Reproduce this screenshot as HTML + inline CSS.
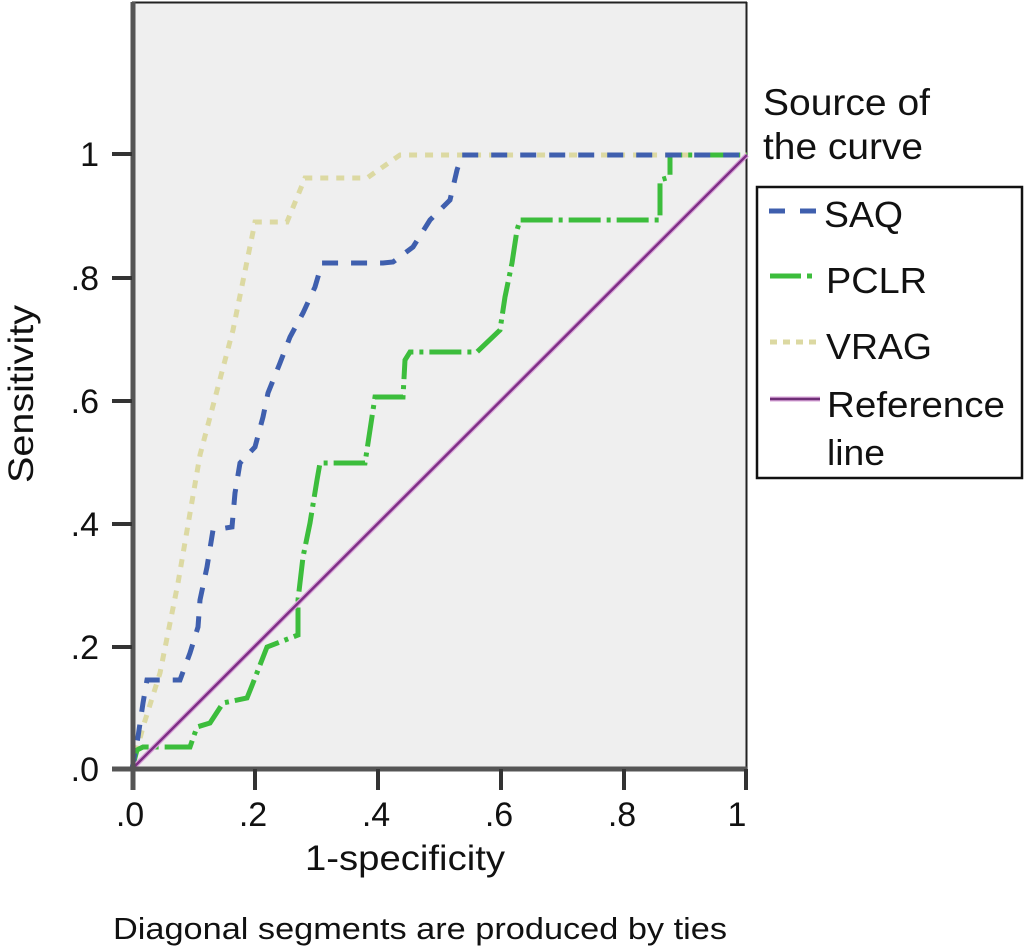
<!DOCTYPE html>
<html><head><meta charset="utf-8"><style>
html,body{margin:0;padding:0;background:#fff;}
svg{display:block;}
text{font-family:"Liberation Sans",Arial,sans-serif;fill:#111;}
</style></head><body>
<svg width="1024" height="947" viewBox="0 0 1024 947" xmlns="http://www.w3.org/2000/svg">
<rect x="0" y="0" width="1024" height="947" fill="#fff"/>
<!-- plot area -->
<rect x="132" y="2" width="615" height="767" fill="#efefef"/>
<line x1="132" y1="2.5" x2="747" y2="2.5" stroke="#222" stroke-width="2"/>
<line x1="746.5" y1="2" x2="746.5" y2="790" stroke="#222" stroke-width="2"/>

<!-- curves -->
<polyline fill="none" stroke="#dcd9a2" stroke-width="5" stroke-dasharray="8,8"
 points="132,769 143,727 160,673 178,583 200,455 233,330 255,222 287,222 305,178 367,178 400,155 747,155"/>
<polyline fill="none" stroke="#3cbd3c" stroke-width="5" stroke-dasharray="32,6,4,6"
 points="132,769 137,750 143,747 190,747 197,727 210,723 223,703 247,698 253,683 267,647 298,635 298,600 303,557 310,523 317,480 320,463 365,463 375,397 403,397 405,360 410,352 477,352 500,330 505,297 512,263 517,230 520,220 660,220 660,180 670,177 670,155 747,155"/>
<polyline fill="none" stroke="#3f5fae" stroke-width="5" stroke-dasharray="16,13"
 points="132,769 138,737 143,703 147,680 180,680 190,653 198,627 200,600 207,567 213,530 232,527 235,493 240,463 255,447 263,417 268,393 280,363 290,337 303,313 315,287 322,263 383,263 393,262 413,247 430,220 450,200 457,170 462,155 747,155"/>
<line x1="132" y1="769" x2="747" y2="155" stroke="#d9a6d9" stroke-width="5"/>
<line x1="132" y1="769" x2="747" y2="155" stroke="#7e2f86" stroke-width="2.5"/>

<!-- axes -->
<line x1="133" y1="2" x2="133" y2="790" stroke="#555" stroke-width="5"/>
<line x1="112" y1="769" x2="747" y2="769" stroke="#555" stroke-width="5"/>
<g stroke="#333" stroke-width="4">
<line x1="112" y1="154" x2="132" y2="154"/>
<line x1="112" y1="278" x2="132" y2="278"/>
<line x1="112" y1="401" x2="132" y2="401"/>
<line x1="112" y1="524" x2="132" y2="524"/>
<line x1="112" y1="647" x2="132" y2="647"/>
<line x1="255" y1="769" x2="255" y2="790"/>
<line x1="378" y1="769" x2="378" y2="790"/>
<line x1="501" y1="769" x2="501" y2="790"/>
<line x1="624" y1="769" x2="624" y2="790"/>
<line x1="746" y1="769" x2="746" y2="790"/>
</g>

<!-- y tick labels -->
<g font-size="34" text-anchor="end">
<text x="99" y="166">1</text>
<text x="99" y="290">.8</text>
<text x="99" y="413">.6</text>
<text x="99" y="536">.4</text>
<text x="99" y="659">.2</text>
<text x="99" y="781">.0</text>
</g>
<!-- x tick labels -->
<g font-size="34" text-anchor="middle">
<text x="130" y="826">.0</text>
<text x="253" y="826">.2</text>
<text x="376" y="826">.4</text>
<text x="499" y="826">.6</text>
<text x="622" y="826">.8</text>
<text x="737" y="826">1</text>
</g>

<text x="305" y="870" font-size="35" textLength="200" lengthAdjust="spacingAndGlyphs">1-specificity</text>
<text transform="translate(33,483) rotate(-90)" x="0" y="0" font-size="35" textLength="178" lengthAdjust="spacingAndGlyphs">Sensitivity</text>
<text x="113" y="939" font-size="31" textLength="614" lengthAdjust="spacingAndGlyphs">Diagonal segments are produced by ties</text>

<!-- legend -->
<text x="763" y="115" font-size="37" textLength="167" lengthAdjust="spacingAndGlyphs">Source of</text>
<text x="763" y="159" font-size="37" textLength="160" lengthAdjust="spacingAndGlyphs">the curve</text>
<rect x="757" y="187" width="265" height="291" fill="#fff" stroke="#111" stroke-width="2.5"/>
<line x1="769" y1="211" x2="818" y2="211" stroke="#3f5fae" stroke-width="5" stroke-dasharray="16,15"/>
<line x1="770" y1="276" x2="813" y2="276" stroke="#3cbd3c" stroke-width="5" stroke-dasharray="31,6,5,10"/>
<line x1="770" y1="342" x2="820" y2="342" stroke="#dcd9a2" stroke-width="5" stroke-dasharray="7,6"/>
<line x1="770" y1="399" x2="820" y2="399" stroke="#d9a6d9" stroke-width="5"/>
<line x1="770" y1="399" x2="820" y2="399" stroke="#6e2f76" stroke-width="2.5"/>
<g font-size="36">
<text x="824" y="227" textLength="79" lengthAdjust="spacingAndGlyphs">SAQ</text>
<text x="826" y="293" textLength="101" lengthAdjust="spacingAndGlyphs">PCLR</text>
<text x="826" y="359" textLength="106" lengthAdjust="spacingAndGlyphs">VRAG</text>
<text x="827" y="417" textLength="178" lengthAdjust="spacingAndGlyphs">Reference</text>
<text x="827" y="465" textLength="58" lengthAdjust="spacingAndGlyphs">line</text>
</g>
</svg>
</body></html>
